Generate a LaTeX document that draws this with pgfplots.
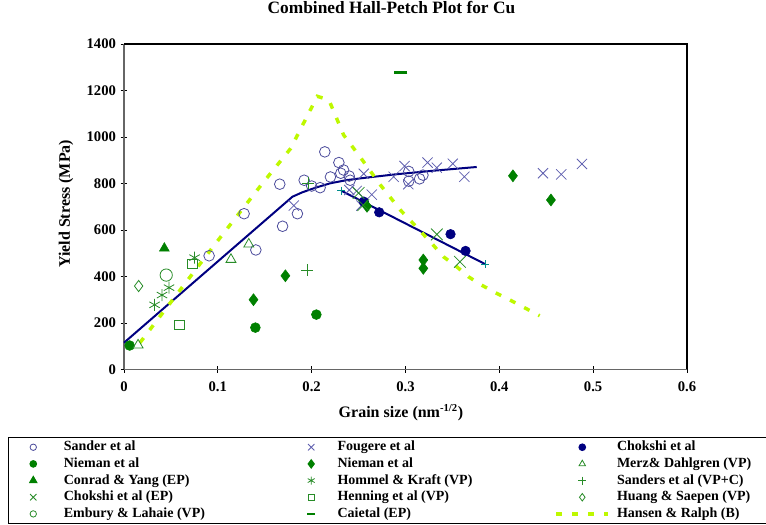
\documentclass[border=0pt]{standalone}
\usepackage{pgfplots}
\pgfplotsset{compat=1.18}
\usepackage{fontspec}
\setmainfont{Liberation Serif}

\definecolor{sander}{RGB}{75,75,155}
\definecolor{fougere}{RGB}{95,95,175}
\definecolor{navyc}{RGB}{0,0,128}
\definecolor{dgreen}{RGB}{0,128,0}
\definecolor{lgreen}{RGB}{40,140,40}
\definecolor{hansen}{RGB}{190,248,0}
\definecolor{tealc}{RGB}{0,140,140}

% legend images, one style per legend column
\pgfplotsset{
  lgA/.style={legend image code/.code={\path (-18pt,0pt) (22.5pt,0pt);
      \draw[mark size=#1] plot coordinates {(0pt,0pt)};}},
  lgA/.default=2.4pt,
  lgB/.style={legend image code/.code={\path (-10pt,0pt) (18.75pt,0pt);
      \draw[mark size=#1] plot coordinates {(0pt,0pt)};}},
  lgB/.default=2.4pt,
  lgC/.style={legend image code/.code={\path (-19.5pt,0pt) (24.75pt,0pt);
      \draw[mark size=#1] plot coordinates {(0pt,0pt)};}},
  lgC/.default=2.4pt,
  lgH/.style={legend image code/.code={\path (-19.5pt,0pt) (24.75pt,0pt);
      \draw (-19.5pt,0pt) -- (19.5pt,0pt);}},
}
\newcommand\lta[1]{\makebox[174.5pt][l]{#1}}
\newcommand\ltb[1]{\makebox[162.75pt][l]{#1}}
\newcommand\ltc[1]{\makebox[118pt][l]{#1}}

\begin{document}
\begin{tikzpicture}
\begin{axis}[
  at={(0pt,0pt)}, anchor=south west,
  scale only axis, width=422.25pt, height=244.1pt,
  xmin=0, xmax=0.6, ymin=0, ymax=1400,
  xtick={0,0.1,0.2,0.3,0.4,0.5,0.6},
  ytick={0,200,400,600,800,1000,1200,1400},
  axis lines=left,
  axis line style={-, draw=black!60, line width=1.2pt},
  tick align=center, major tick length=5pt,
  tick style={black, line width=0.6pt},
  /pgf/number format/assume math mode=true,
  /pgf/number format/fixed,
  /pgf/number format/1000 sep={},
  tick label style={font=\bfseries\fontsize{11}{13}\selectfont},
  xticklabel style={yshift=-3pt},
  title={Combined Hall-Petch Plot for Cu},
  title style={at={(axis description cs:0.475,1.089)}, anchor=center,
    font=\bfseries\fontsize{13}{15}\selectfont},
  xlabel={Grain size (nm\textsuperscript{-1/2})},
  xlabel style={at={(axis description cs:0.492,-0.1336)}, anchor=center,
    font=\bfseries\fontsize{12}{14}\selectfont},
  ylabel={Yield Stress (MPa)},
  ylabel style={at={(axis description cs:-0.103,0.509)}, anchor=center,
    font=\bfseries\fontsize{12}{14}\selectfont},
  clip=false,
  legend columns=3,
  legend cell align=left,
  legend style={at={(axis description cs:-0.2059,-0.2074)}, anchor=north west,
    draw=black, line width=0.9pt, inner xsep=0pt, inner ysep=1pt,
    font=\bfseries\fontsize{10.5}{12}\selectfont,
    nodes={inner sep=0pt, text height=8.9pt, text depth=3.6pt},
    /tikz/column sep=0pt, /tikz/row sep=0pt},
]

% fitted lines
\addplot[navyc, line width=1.5pt, forget plot] coordinates {
  (0,115) (0.1795,743) (0.19,762) (0.205,783) (0.22,801) (0.238,815)
  (0.26,826) (0.291,840) (0.33,855) (0.3759,871)};
\addplot[navyc, line width=1.5pt, mark=+, mark size=3pt,
  mark options={tealc, line width=0.6pt}, forget plot] coordinates {
  (0.2315,769) (0.385,453)};

% Sander et al
\addplot[only marks, mark=o, color=sander, mark size=4pt, line width=0.6pt, lgA] coordinates {
  (0.0907,489) (0.128,670) (0.1405,514) (0.166,797) (0.169,616) (0.1848,670)
  (0.192,814) (0.200,789) (0.209,782) (0.214,936) (0.220,828) (0.229,890)
  (0.231,844) (0.234,858) (0.240,832) (0.241,814) (0.3035,852) (0.3035,810)
  (0.315,820) (0.3186,836)};
\addlegendentry{\lta{Sander et al}}
% Fougere et al
\addplot[only marks, mark=x, color=fougere, mark size=5.4pt, line width=0.6pt, lgB=3.4pt] coordinates {
  (0.181,705) (0.240,772) (0.248,768) (0.264,752) (0.253,705) (0.2555,842)
  (0.2874,829) (0.299,875) (0.303,797) (0.3235,890) (0.3334,868) (0.3504,885)
  (0.3627,829) (0.4466,844) (0.466,839) (0.488,884)};
\addlegendentry{\ltb{Fougere et al}}
% Chokshi et al
\addplot[only marks, mark=*, color=navyc, mark size=3.6pt, lgC] coordinates {
  (0.2555,722) (0.272,676) (0.348,582) (0.364,510)};
\addlegendentry{\ltc{Chokshi et al}}
% Nieman et al (circles)
\addplot[only marks, mark=*, color=dgreen, mark size=3.7pt, lgA] coordinates {
  (0.006,103) (0.14,180) (0.205,236)};
\addlegendentry{\lta{Nieman et al}}
% Nieman et al (diamonds)
\addplot[only marks, mark=diamond*, color=dgreen, mark size=4.5pt, lgB=3pt] coordinates {
  (0.138,300) (0.172,403) (0.259,702) (0.319,471) (0.319,435) (0.4145,833) (0.455,729)};
\addlegendentry{\ltb{Nieman et al}}
% Merz & Dahlgren
\addplot[only marks, mark=triangle, color=lgreen, mark size=4.3pt, line width=0.6pt, lgC=2.8pt] coordinates {
  (0.015,105) (0.114,473) (0.133,539)};
\addlegendentry{\ltc{Merz\& Dahlgren (VP)}}
% Conrad & Yang
\addplot[only marks, mark=triangle*, color=dgreen, mark size=4.3pt, lgA=3pt] coordinates {
  (0.043,521)};
\addlegendentry{\lta{Conrad \& Yang (EP)}}
% Hommel & Kraft
\addplot[only marks, mark=asterisk, color=lgreen, mark size=4.5pt, line width=0.6pt, lgB=3pt] coordinates {
  (0.0326,278) (0.0405,320) (0.048,352) (0.0752,481)};
\addlegendentry{\ltb{Hommel \& Kraft (VP)}}
% Sanders et al
\addplot[only marks, mark=+, color=lgreen, mark size=4.5pt, line width=0.6pt, lgC=3pt] coordinates {
  (0.195,426) (0.196,800)};
\addlegendentry{\ltc{Sanders et al (VP+C)}}
% Chokshi et al (EP)
\addplot[only marks, mark=x, color=lgreen, mark size=6.2pt, line width=0.6pt, lgA=3.4pt] coordinates {
  (0.250,759) (0.255,707) (0.3334,581) (0.358,463)};
\addlegendentry{\lta{Chokshi et al (EP)}}
% Henning et al
\addplot[only marks, mark=square, color=lgreen, mark size=3.6pt, line width=0.6pt, lgB] coordinates {
  (0.059,192) (0.073,454)};
\addlegendentry{\ltb{Henning et al (VP)}}
% Huang & Saepen
\addplot[only marks, mark=diamond, color=lgreen, mark size=4.2pt, line width=0.6pt, lgC=2.8pt] coordinates {
  (0.0156,359)};
\addlegendentry{\ltc{Huang \& Saepen (VP)}}
% Embury & Lahaie
\addplot[only marks, mark=o, color=lgreen, mark size=4.6pt, line width=0.6pt, lgA] coordinates {
  (0.045,406)};
\addlegendentry{\lta{Embury \& Lahaie (VP)}}
% Caietal
\addplot[only marks, mark=-, color=dgreen, mark size=5pt, line width=2pt, lgB=3pt] coordinates {
  (0.295,1276)};
\addlegendentry{\ltb{Caietal (EP)}}
% Hansen & Ralph
\addplot[hansen, line width=2.6pt, dash pattern=on 4.5pt off 7.5pt, lgH] coordinates {
  (0.017,115) (0.0963,535) (0.1158,636) (0.1477,801) (0.1777,951) (0.206,1175)
  (0.2184,1159) (0.234,1009) (0.254,901) (0.2732,794) (0.2945,686) (0.307,633)
  (0.3263,550) (0.3404,485) (0.3546,442) (0.367,399) (0.381,363) (0.397,328)
  (0.4094,303) (0.443,231)};
\addlegendentry{\ltc{Hansen \& Ralph (B)}}

\draw[black, line width=0.8pt] (rel axis cs:0,1) -- (rel axis cs:1,1) -- (rel axis cs:1,0);
\end{axis}
\pgfresetboundingbox
\path (-93pt,-115.9pt) rectangle (481.5pt,277.1pt);
\end{tikzpicture}
\end{document}
